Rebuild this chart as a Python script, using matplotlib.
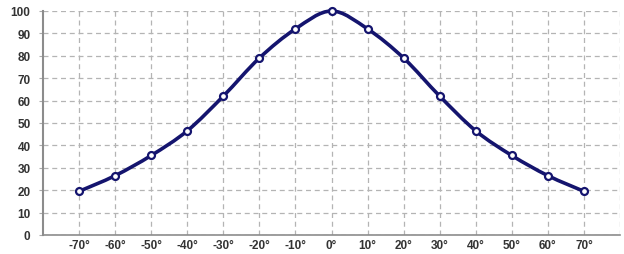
import numpy as np
import matplotlib.pyplot as plt
from matplotlib.path import Path
from matplotlib.patches import PathPatch

angles = [-70, -60, -50, -40, -30, -20, -10, 0, 10, 20, 30, 40, 50, 60, 70]
values = [19.5, 26.5, 35.5, 46.5, 62, 79, 92, 100, 92, 79, 62, 46.5, 35.5, 26.5, 19.5]
tick_labels = [f"{a}°" for a in angles]

navy = '#14146e'

def smooth_path(x, y, t=1/6):
    # catmull-rom style bezier through the points (like excel smoothed line)
    x = np.asarray(x, float)
    y = np.asarray(y, float)
    verts = [(x[0], y[0])]
    codes = [Path.MOVETO]
    n = len(x)
    for i in range(n - 1):
        p0 = (x[max(i - 1, 0)], y[max(i - 1, 0)])
        p1 = (x[i], y[i])
        p2 = (x[i + 1], y[i + 1])
        p3 = (x[min(i + 2, n - 1)], y[min(i + 2, n - 1)])
        c1 = (p1[0] + (p2[0] - p0[0]) * t, p1[1] + (p2[1] - p0[1]) * t)
        c2 = (p2[0] - (p3[0] - p1[0]) * t, p2[1] - (p3[1] - p1[1]) * t)
        verts += [c1, c2, p2]
        codes += [Path.CURVE4] * 3
    return Path(verts, codes)

fig = plt.figure(figsize=(6.24, 2.55), dpi=100)
ax = fig.add_axes([43/624, 1 - 236/255, 577/624, 224/255])

ax.set_xlim(-80, 80)
ax.set_ylim(0, 100)
ax.set_yticks(range(0, 101, 10))
ax.set_xticks(range(-70, 81, 10))
ax.set_xticklabels(tick_labels + [''])

ax.grid(True, color='#b4b4b4', linestyle=(0, (4, 3)), linewidth=0.9)
ax.set_axisbelow(True)

for s in ['top', 'right']:
    ax.spines[s].set_visible(False)
ax.spines['left'].set_color('#8c8c8c')
ax.spines['left'].set_linewidth(1.5)
ax.spines['bottom'].set_color('#8c8c8c')
ax.spines['bottom'].set_linewidth(1.2)

ax.tick_params(axis='y', length=3, width=0.8, color='#aaaaaa', pad=6,
               labelsize=8.5, labelcolor='#333333')
ax.tick_params(axis='x', length=0, pad=3, labelsize=8.5, labelcolor='#333333')
for lab in ax.get_yticklabels() + ax.get_xticklabels():
    lab.set_fontweight('bold')
    lab.set_fontfamily('Liberation Sans')

ax.add_patch(PathPatch(smooth_path(angles, values), facecolor='none',
                       edgecolor=navy, linewidth=2.6, zorder=3, clip_on=False))
ax.plot(angles, values, linestyle='none', marker='o', markersize=5,
        markerfacecolor='white', markeredgecolor=navy, markeredgewidth=1.6,
        zorder=4, clip_on=False)

fig.savefig('out.png', dpi=100)
